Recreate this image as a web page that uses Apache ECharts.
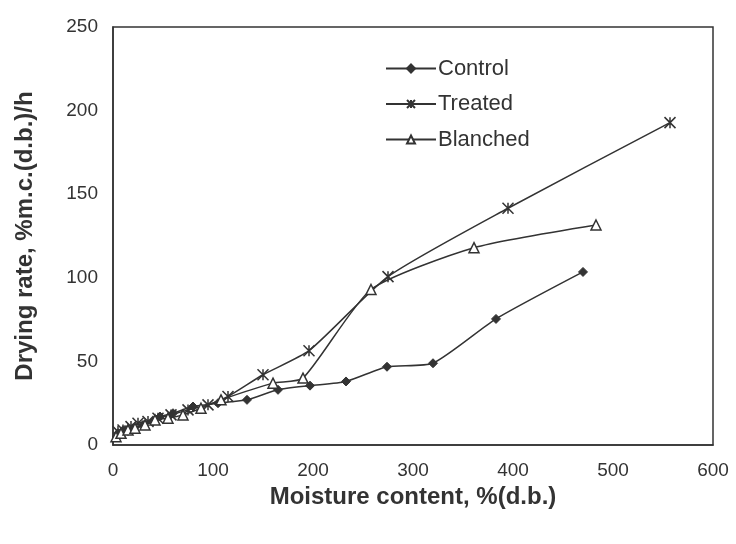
<!DOCTYPE html>
<html>
<head>
<meta charset="utf-8">
<script src="https://cdn.jsdelivr.net/npm/echarts@6/dist/echarts.min.js"></script>
<style>
  html, body { margin: 0; padding: 0; background: #ffffff; }
  #chart { width: 736px; height: 544px; }
</style>
</head>
<body>
<div id="chart"></div>
<script>
// Moisture content, %(d.b.)  vs  drying rate, %m.c.(d.b.)/h
const controlX = [5, 12, 20, 30, 40, 47, 60, 80, 105, 134, 165, 197, 233, 274, 320, 383, 470];
const controlY = [7, 9, 10, 12, 14, 17, 19, 23, 25, 27, 33, 35.5, 38, 46.8, 48.9, 75.4, 103.5];

const treatedX = [5, 10, 18, 25, 35, 45, 58, 75, 95, 115, 150, 196, 275, 395, 557];
const treatedY = [8, 9, 11, 13, 14, 16, 18, 21, 24, 29, 42, 56.4, 100.7, 141.6, 192.8];

const blanchedX = [3, 8, 15, 22, 32, 42, 55, 70, 88, 108, 160, 190, 258, 361, 483];
const blanchedY = [5, 7, 9, 10, 12, 15, 16, 18, 22, 27, 37, 40, 93, 118, 131.6];

const seriesNames = ['Control', 'Treated', 'Blanched'];

const pairs = (xs, ys) => xs.map((x, i) => [x, ys[i]]);

const ink = '#333333';
// asterisk marker: an X crossed by a vertical stroke
const asterisk = 'path://M0,0L10,10M10,0L0,10M5,0L5,10';

const chart = echarts.init(document.getElementById('chart'), null, { renderer: 'canvas' });

const baseFont = 'Liberation Sans, Arial, sans-serif';

chart.setOption({
  backgroundColor: '#ffffff',
  animation: false,
  textStyle: { fontFamily: baseFont },
  grid: { left: 113, right: 23, top: 27, bottom: 99, show: true, borderColor: ink, borderWidth: 1.5, backgroundColor: 'transparent' },
  legend: {
    orient: 'vertical',
    left: 380,
    top: 52,
    itemWidth: 50,
    itemHeight: 10,
    itemGap: 12.5,
    textStyle: { fontSize: 22, lineHeight: 23, color: '#333', fontFamily: baseFont, padding: [0, 0, 0, -3] },
    data: seriesNames
  },
  xAxis: {
    type: 'value',
    min: 0, max: 600, interval: 100,
    name: 'Moisture content, %(d.b.)',
    nameLocation: 'middle',
    nameGap: 40,
    nameTextStyle: { fontSize: 24, fontWeight: 'bold', color: '#333', fontFamily: baseFont },
    axisLine: { show: true, lineStyle: { color: ink, width: 1.5 } },
    axisTick: { show: false },
    splitLine: { show: false },
    axisLabel: { fontSize: 19, color: '#333', margin: 16, fontFamily: baseFont }
  },
  yAxis: {
    type: 'value',
    min: 0, max: 250, interval: 50,
    name: 'Drying rate, %m.c.(d.b.)/h',
    nameLocation: 'middle',
    nameGap: 76,
    nameTextStyle: { fontSize: 24, fontWeight: 'bold', color: '#333', fontFamily: baseFont },
    axisLine: { show: true, lineStyle: { color: ink, width: 1.5 } },
    axisTick: { show: false },
    splitLine: { show: false },
    axisLabel: { fontSize: 19, color: '#333', margin: 15, fontFamily: baseFont }
  },
  series: [
    {
      name: 'Control', type: 'line', data: pairs(controlX, controlY),
      smooth: 0.2,
      symbol: 'diamond', symbolSize: 9,
      lineStyle: { color: ink, width: 1.5 },
      itemStyle: { color: ink, borderColor: ink, borderWidth: 1 }
    },
    {
      name: 'Treated', type: 'line', data: pairs(treatedX, treatedY),
      smooth: 0.2,
      symbol: asterisk, symbolSize: 11,
      lineStyle: { color: ink, width: 1.5 },
      itemStyle: { color: 'none', borderColor: ink, borderWidth: 1.5 }
    },
    {
      name: 'Blanched', type: 'line', data: pairs(blanchedX, blanchedY),
      smooth: 0.2,
      symbol: 'triangle', symbolSize: 10,
      lineStyle: { color: ink, width: 1.5 },
      itemStyle: { color: '#ffffff', borderColor: ink, borderWidth: 1.5 }
    }
  ]
});
</script>
</body>
</html>
